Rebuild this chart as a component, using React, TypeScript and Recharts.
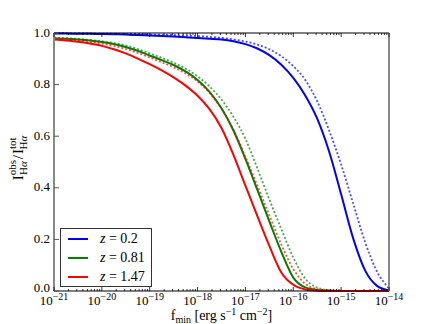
import { LineChart, Line, XAxis, YAxis, Legend } from "recharts";

// log10 of f_min, every quarter decade
const logF = [
  -21, -20.75, -20.5, -20.25, -20, -19.75, -19.5, -19.25, -19, -18.75, -18.5, -18.25, -18, -17.75, -17.5,
  -17.25, -17, -16.75, -16.5, -16.25, -16, -15.75, -15.5, -15.25, -15, -14.75, -14.5, -14.25, -14,
];

const zLabels = ["0.2", "0.81", "1.47"];
const colors = ["#0000ff", "#008000", "#ff0000"];

// solid curves
const blueSolid = [
  0.998, 0.998, 0.997, 0.997, 0.996, 0.995, 0.994, 0.992, 0.99, 0.988, 0.986, 0.984, 0.981, 0.978, 0.975,
  0.968, 0.957, 0.94, 0.914, 0.877, 0.826, 0.758, 0.668, 0.54, 0.375, 0.205, 0.08, 0.02, 0.002,
];
const greenSolid = [
  0.98, 0.978, 0.975, 0.971, 0.965, 0.957, 0.946, 0.931, 0.913, 0.895, 0.876, 0.851, 0.818, 0.772, 0.708,
  0.622, 0.512, 0.392, 0.27, 0.152, 0.052, 0.014, 0.004, 0.001, 0, 0, 0, 0, 0,
];
const redSolid = [
  0.975, 0.971, 0.966, 0.959, 0.95, 0.937, 0.921, 0.901, 0.879, 0.855, 0.828, 0.796, 0.757, 0.705, 0.632,
  0.528, 0.408, 0.29, 0.175, 0.072, 0.024, 0.006, 0.001, 0, 0, 0, 0, 0, 0,
];

// dotted curves
const blueDotted = [
  0.999, 0.999, 0.998, 0.998, 0.997, 0.997, 0.996, 0.995, 0.994, 0.993, 0.992, 0.99, 0.988, 0.985, 0.981,
  0.975, 0.967, 0.955, 0.937, 0.91, 0.872, 0.818, 0.735, 0.622, 0.49, 0.34, 0.19, 0.075, 0.01,
];
const greenDotted = [
  0.982, 0.98, 0.977, 0.973, 0.968, 0.961, 0.952, 0.938, 0.921, 0.904, 0.885, 0.862, 0.832, 0.793, 0.742,
  0.675, 0.59, 0.475, 0.355, 0.24, 0.13, 0.048, 0.013, 0.003, 0.001, 0, 0, 0, 0,
];
const redDotted = [
  0.978, 0.975, 0.971, 0.966, 0.959, 0.95, 0.938, 0.923, 0.905, 0.887, 0.867, 0.843, 0.812, 0.768, 0.706,
  0.624, 0.52, 0.408, 0.293, 0.18, 0.085, 0.028, 0.007, 0.002, 0, 0, 0, 0, 0,
];

const decades = [-21, -20, -19, -18, -17, -16, -15, -14];
const yTicks = [0, 0.2, 0.4, 0.6, 0.8, 1.0];

const data = logF.map((x, i) => ({
  x,
  b: blueSolid[i],
  bd: blueDotted[i],
  g: greenSolid[i],
  gd: greenDotted[i],
  r: redSolid[i],
  rd: redDotted[i],
}));

const minorTicks = decades
  .slice(0, -1)
  .flatMap((n) => [2, 3, 4, 5, 6, 7, 8, 9].map((k) => n + Math.log10(k)));
const xTicks = [...decades, ...minorTicks].sort((a, b) => a - b);

const FONT = "'Liberation Serif', serif";

const isMajor = (v: number) => Math.abs(v - Math.round(v)) < 1e-9;

function BottomTick({ x, y, payload }: any) {
  const v = payload.value;
  const major = isMajor(v);
  return (
    <g>
      <line x1={x} x2={x} y1={y} y2={y - (major ? 4 : 2)} stroke="#000" strokeWidth={0.8} />
      {major && (
        <text x={x} y={y + 14} textAnchor="middle" fontSize={13} fontFamily={FONT} fill="#000">
          10
          <tspan dy={-5.5} fontSize={10}>
            {"\u2212" + Math.abs(Math.round(v))}
          </tspan>
        </text>
      )}
    </g>
  );
}

function TopTick({ x, y, payload }: any) {
  const major = isMajor(payload.value);
  return <line x1={x} x2={x} y1={y} y2={y + (major ? 4 : 2)} stroke="#000" strokeWidth={0.8} />;
}

function LeftTick({ x, y, payload }: any) {
  const v = payload.value;
  return (
    <g>
      <line x1={x} x2={x + 5} y1={y} y2={y} stroke="#555" strokeWidth={1} />
      <text x={x - 4} y={y + (v === 0 ? 1 : 3.5)} textAnchor="end" fontSize={13} fontFamily={FONT} fill="#000">
        {v.toFixed(1)}
      </text>
    </g>
  );
}

function RightTick({ x, y }: any) {
  return <line x1={x} x2={x - 5} y1={y} y2={y} stroke="#555" strokeWidth={1} />;
}

function YTitle({ viewBox }: any) {
  const cx = 23;
  const cy = viewBox.y + viewBox.height / 2 - 4;
  return (
    <text
      x={cx}
      y={cy}
      transform={`rotate(-90, ${cx}, ${cy})`}
      textAnchor="middle"
      fontSize={15}
      fontFamily={FONT}
      fill="#000"
    >
      I
      <tspan dy={-7} fontSize={11}>obs</tspan>
      <tspan dx={-15} dy={11} fontSize={11}>
        H<tspan fontStyle="italic">α</tspan>
      </tspan>
      <tspan dy={-4} dx={2}>/</tspan>
      <tspan dx={1}>I</tspan>
      <tspan dy={-7} fontSize={11}>tot</tspan>
      <tspan dx={-12} dy={11} fontSize={11}>
        H<tspan fontStyle="italic">α</tspan>
      </tspan>
    </text>
  );
}

function XTitle({ viewBox }: any) {
  const cx = viewBox.x + viewBox.width / 2;
  return (
    <text x={cx} y={320} textAnchor="middle" fontSize={14} fontFamily={FONT} fill="#000">
      f
      <tspan dy={2.5} fontSize={10}>min</tspan>
      <tspan dy={-2.5}> [erg s</tspan>
      <tspan dy={-5} fontSize={10}>{"\u22121"}</tspan>
      <tspan dy={5}> cm</tspan>
      <tspan dy={-5} fontSize={10}>{"\u22122"}</tspan>
      <tspan dy={5}>]</tspan>
    </text>
  );
}

function LegendBox({ payload }: any) {
  const items = (payload || []).filter((p: any) => p.type !== "none");
  return (
    <div
      style={{
        border: "1px solid #333",
        background: "#fff",
        width: 92,
        padding: "0 0 0 7px",
        boxSizing: "border-box",
        fontFamily: FONT,
        fontSize: 14,
        color: "#000",
      }}
    >
      {items.map((p: any) => (
        <div key={p.value} style={{ display: "flex", alignItems: "center", height: 19 }}>
          <span style={{ width: 20, borderTop: `2px solid ${p.color}`, marginRight: 12 }} />
          <span>
            <i>z</i> = {p.value}
          </span>
        </div>
      ))}
    </div>
  );
}

export default function App() {
  const solids = [
    { key: "b", color: colors[0], name: zLabels[0] },
    { key: "g", color: colors[1], name: zLabels[1] },
    { key: "r", color: colors[2], name: zLabels[2] },
  ];
  const dotted = [
    { key: "bd", color: colors[0] },
    { key: "gd", color: colors[1] },
    { key: "rd", color: colors[2] },
  ];
  return (
    <div style={{ position: "absolute", left: 0, top: 0, background: "#fff" }}>
      <LineChart width={432} height={324} data={data} margin={{ top: 32, right: 42, bottom: 32, left: 53 }}>
        <XAxis
          xAxisId="bottom"
          dataKey="x"
          type="number"
          domain={[-21, -14]}
          ticks={xTicks}
          interval={0}
          height={1}
          tickSize={0}
          tickMargin={0}
          tickLine={false}
          tick={<BottomTick />}
          axisLine={{ stroke: "#000", strokeWidth: 1 }}
          label={<XTitle />}
        />
        <XAxis
          xAxisId="top"
          orientation="top"
          dataKey="x"
          type="number"
          domain={[-21, -14]}
          ticks={xTicks}
          interval={0}
          height={1}
          tickSize={0}
          tickMargin={0}
          tickLine={false}
          tick={<TopTick />}
          axisLine={{ stroke: "#000", strokeWidth: 1 }}
        />
        <YAxis
          yAxisId="left"
          domain={[0, 1]}
          ticks={yTicks}
          interval={0}
          width={1}
          tickSize={0}
          tickMargin={0}
          tickLine={false}
          tick={<LeftTick />}
          axisLine={{ stroke: "#888", strokeWidth: 2 }}
          label={<YTitle />}
        />
        <YAxis
          yAxisId="right"
          orientation="right"
          domain={[0, 1]}
          ticks={yTicks}
          interval={0}
          width={1}
          tickSize={0}
          tickMargin={0}
          tickLine={false}
          tick={<RightTick />}
          axisLine={{ stroke: "#888", strokeWidth: 2 }}
        />
        {solids.map((s, i) => [
          <Line
            key={s.key}
            xAxisId="bottom"
            yAxisId="left"
            type="monotone"
            dataKey={s.key}
            name={s.name}
            stroke={s.color}
            strokeWidth={2}
            dot={false}
            activeDot={false}
            isAnimationActive={false}
          />,
          <Line
            key={dotted[i].key}
            xAxisId="bottom"
            yAxisId="left"
            type="monotone"
            dataKey={dotted[i].key}
            stroke={dotted[i].color}
            strokeWidth={1.8}
            strokeOpacity={0.7}
            strokeDasharray="2 2"
            legendType="none"
            dot={false}
            activeDot={false}
            isAnimationActive={false}
          />,
        ])}
        <Legend
          layout="vertical"
          align="center"
          verticalAlign="middle"
          content={<LegendBox />}
          wrapperStyle={{ left: 60, top: 228, width: 92 }}
        />
      </LineChart>
    </div>
  );
}
